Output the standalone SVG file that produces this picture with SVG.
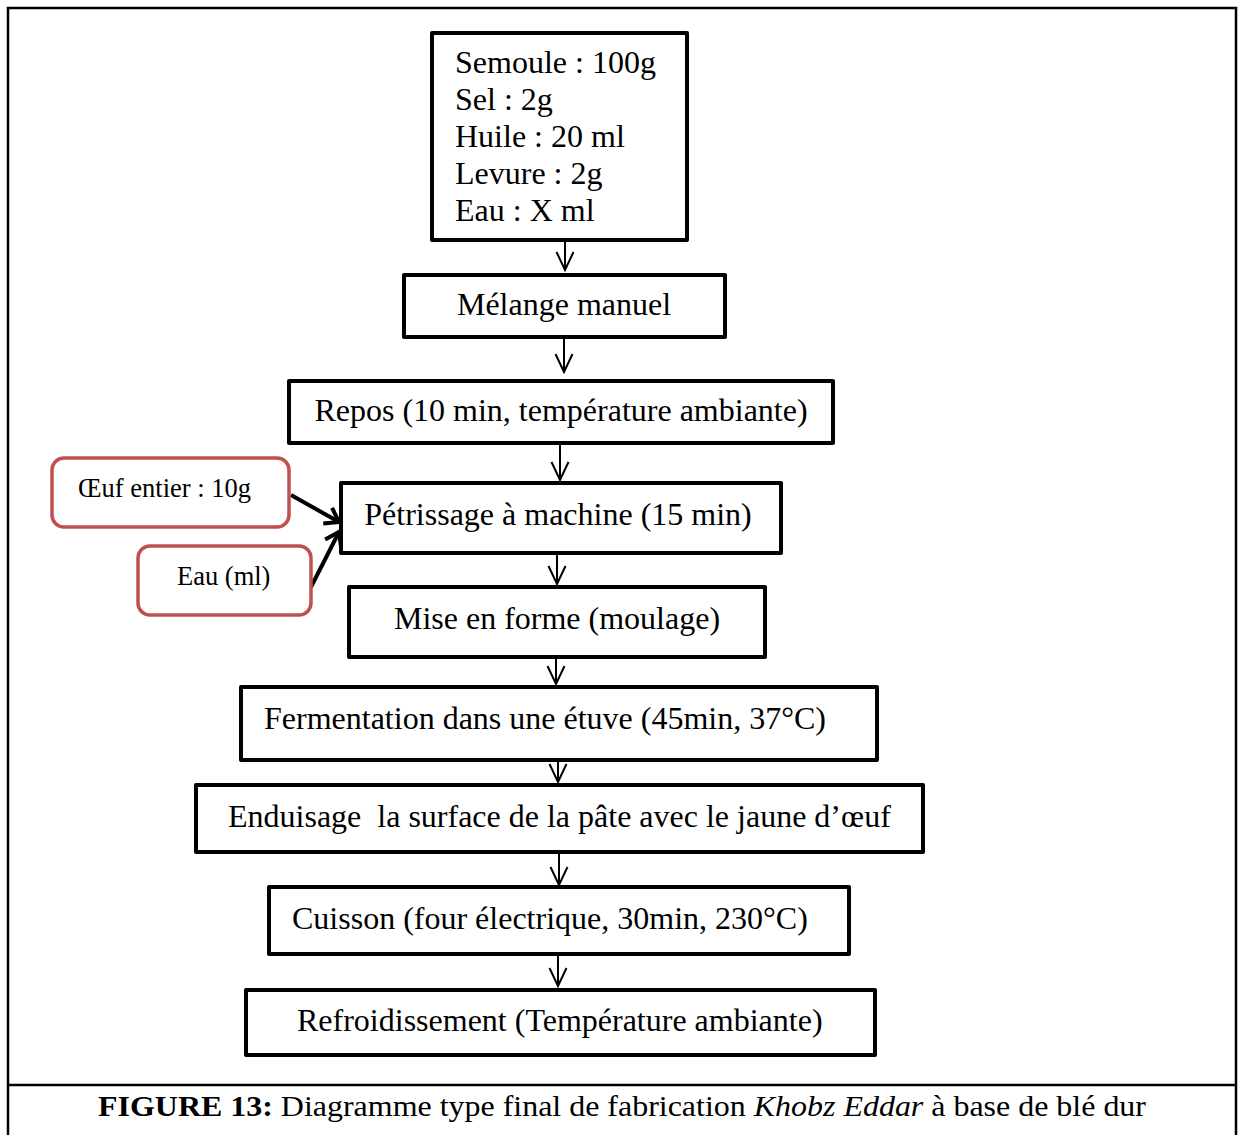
<svg xmlns="http://www.w3.org/2000/svg" width="1243" height="1135" viewBox="0 0 1243 1135">
  <style>
    .frame { fill: none; stroke: #000; stroke-width: 2.5; }
    .step { fill: #fff; stroke: #000; stroke-width: 4; stroke-linejoin: round; }
    .input { fill: #fff; stroke: #C0504D; stroke-width: 3.5; }
    .lbl { font-family: "Liberation Serif", "Times New Roman", serif; font-size: 32px; fill: #000; }
    .small { font-family: "Liberation Serif", "Times New Roman", serif; font-size: 26.5px; fill: #000; }
    .cap { font-family: "Liberation Serif", "Times New Roman", serif; font-size: 30px; fill: #000; }
    .flow { stroke: #000; stroke-width: 2; fill: none; marker-end: url(#vhead); }
    .feed { stroke: #000; stroke-width: 4; fill: none; marker-end: url(#vheadBold); }
  </style>
  <defs>
    <marker id="vhead" viewBox="0 0 22 20" markerWidth="22" markerHeight="20" refX="20" refY="10" orient="auto" markerUnits="userSpaceOnUse">
      <path d="M2,1.5 L20,10 L2,18.5" fill="none" stroke="#000" stroke-width="2"/>
    </marker>
    <marker id="vheadBold" viewBox="0 0 24 24" markerWidth="24" markerHeight="24" refX="21" refY="12" orient="auto" markerUnits="userSpaceOnUse">
      <path d="M8,3 L21,12 L8,21" fill="none" stroke="#000" stroke-width="4" stroke-linejoin="miter"/>
    </marker>
  </defs>

  <rect width="1243" height="1135" fill="#fff"/>

  <!-- page frame with caption band -->
  <path class="frame" d="M8,1135 V8 H1236 V1135"/>
  <line class="frame" x1="8" y1="1085" x2="1236" y2="1085"/>

  <!-- connectors -->
  <g id="connectors">
    <line class="flow" x1="565" y1="241" x2="565" y2="270"/>
    <line class="flow" x1="564" y1="339" x2="564" y2="372"/>
    <line class="flow" x1="560" y1="445" x2="560" y2="480"/>
    <line class="flow" x1="557" y1="555" x2="557" y2="584"/>
    <line class="flow" x1="556" y1="659" x2="556" y2="684"/>
    <line class="flow" x1="558" y1="761" x2="558" y2="782"/>
    <line class="flow" x1="559" y1="854" x2="559" y2="885"/>
    <line class="flow" x1="558" y1="956" x2="558" y2="986"/>
    <line class="feed" x1="291" y1="495" x2="339" y2="522"/>
    <line class="feed" x1="311" y1="587" x2="339" y2="532"/>
  </g>

  <!-- ingredients -->
  <g id="ingredients">
    <rect class="step" x="432" y="33" width="255" height="207"/>
    <text class="lbl" x="455" y="73">Semoule : 100g</text>
    <text class="lbl" x="455" y="110">Sel : 2g</text>
    <text class="lbl" x="455" y="147">Huile : 20 ml</text>
    <text class="lbl" x="455" y="184">Levure : 2g</text>
    <text class="lbl" x="455" y="221">Eau : X ml</text>
  </g>

  <g id="melange">
    <rect class="step" x="404" y="275" width="321" height="62"/>
    <text class="lbl" x="564" y="315" text-anchor="middle">Mélange manuel</text>
  </g>

  <g id="repos">
    <rect class="step" x="289" y="381" width="544" height="62"/>
    <text class="lbl" x="561" y="421" text-anchor="middle">Repos (10 min, température ambiante)</text>
  </g>

  <g id="oeuf">
    <rect class="input" x="52" y="458" width="237" height="69" rx="12"/>
    <text class="small" x="78" y="497">Œuf entier : 10g</text>
  </g>

  <g id="eau">
    <rect class="input" x="138" y="546" width="173" height="69" rx="12"/>
    <text class="small" x="177" y="585">Eau (ml)</text>
  </g>

  <g id="petrissage">
    <rect class="step" x="341" y="483" width="440" height="70"/>
    <text class="lbl" x="558" y="525" text-anchor="middle">Pétrissage à machine (15 min)</text>
  </g>

  <g id="moulage">
    <rect class="step" x="349" y="587" width="416" height="70"/>
    <text class="lbl" x="557" y="629" text-anchor="middle">Mise en forme (moulage)</text>
  </g>

  <g id="fermentation">
    <rect class="step" x="241" y="687" width="636" height="73"/>
    <text class="lbl" x="264" y="729">Fermentation dans une étuve (45min, 37°C)</text>
  </g>

  <g id="enduisage">
    <rect class="step" x="196" y="785" width="727" height="67"/>
    <text class="lbl" x="228" y="827" xml:space="preserve">Enduisage  la surface de la pâte avec le jaune d’œuf</text>
  </g>

  <g id="cuisson">
    <rect class="step" x="269" y="887" width="580" height="67"/>
    <text class="lbl" x="292" y="929">Cuisson (four électrique, 30min, 230°C)</text>
  </g>

  <g id="refroidissement">
    <rect class="step" x="246" y="990" width="629" height="65"/>
    <text class="lbl" x="297" y="1031">Refroidissement (Température ambiante)</text>
  </g>

  <!-- caption -->
  <text class="cap" x="98" y="1116" textLength="1048" lengthAdjust="spacingAndGlyphs"><tspan font-weight="bold">FIGURE 13:</tspan> Diagramme type final de fabrication <tspan font-style="italic">Khobz Eddar</tspan> à base de blé dur</text>
</svg>
